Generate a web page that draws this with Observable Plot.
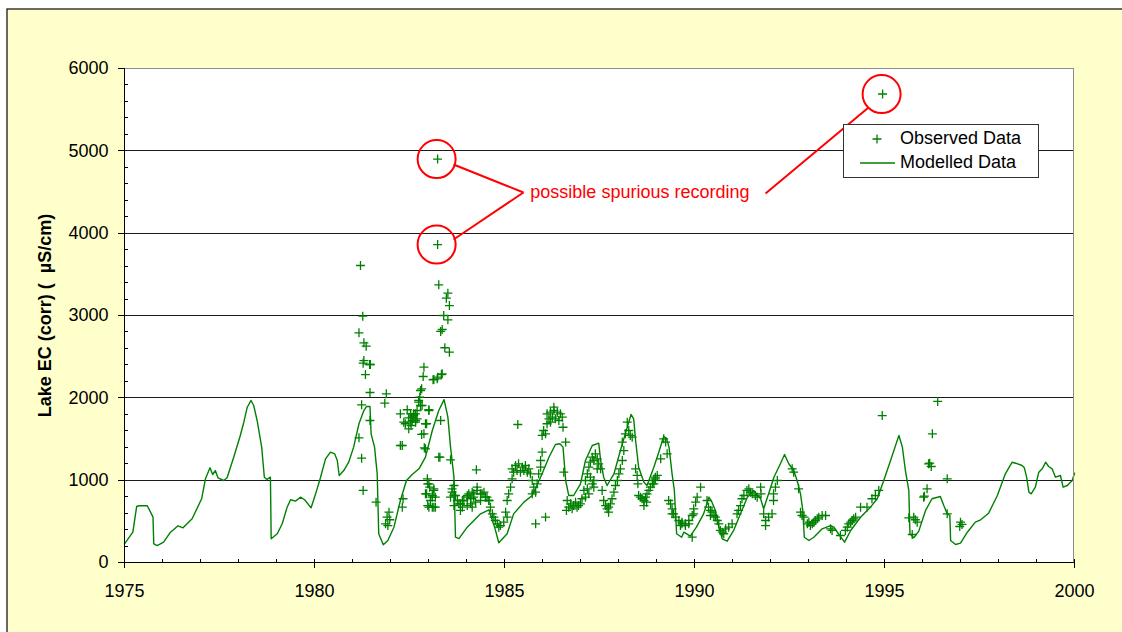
<!DOCTYPE html>
<html><head><meta charset="utf-8">
<script src="https://cdn.jsdelivr.net/npm/d3@7"></script>
<script src="https://cdn.jsdelivr.net/npm/@observablehq/plot@0.6"></script>
<style>
html,body{margin:0;padding:0;background:#fff;overflow:hidden;}
#chart{width:1122px;height:632px;}
</style></head><body><div id="chart"></div>
<script>
// ---------- data ----------
const yTicks = [0, 1000, 2000, 3000, 4000, 5000, 6000];
const yMinor = [200,400,600,800,1200,1400,1600,1800,2200,2400,2600,2800,3200,3400,3600,3800,4200,4400,4600,4800,5200,5400,5600,5800];
const xTicks = [1975, 1980, 1985, 1990, 1995, 2000];
const xMinor = [1976,1977,1978,1979,1981,1982,1983,1984,1986,1987,1988,1989,1991,1992,1993,1994,1996,1997,1998,1999];
const gridValues = [1000, 2000, 3000, 4000, 5000];

// modelled lake EC [year, EC]
const modelled = [
[1975.00,227],[1975.22,368],[1975.32,680],[1975.38,689],[1975.60,689],[1975.75,551],[1975.77,227],[1975.86,206],[1976.03,247],[1976.21,368],[1976.41,446],[1976.54,421],[1976.78,531],[1977.03,774],[1977.13,1016],[1977.25,1150],[1977.32,1069],[1977.39,1117],[1977.46,1029],[1977.61,996],[1977.70,1029],[1977.88,1287],[1978.04,1530],[1978.14,1704],[1978.23,1886],[1978.33,1968],[1978.40,1907],[1978.49,1725],[1978.61,1401],[1978.68,1036],[1978.75,1008],[1978.84,1036],[1978.86,288],[1979.02,349],[1979.15,470],[1979.28,672],[1979.37,762],[1979.50,745],[1979.63,793],[1979.74,762],[1979.91,664],[1980.03,834],[1980.16,1036],[1980.29,1259],[1980.42,1340],[1980.53,1320],[1980.60,1239],[1980.65,1057],[1980.77,1117],[1980.90,1218],[1981.03,1401],[1981.17,1685],[1981.30,1846],[1981.37,1895],[1981.46,1895],[1981.49,1563],[1981.58,1401],[1981.65,1077],[1981.69,349],[1981.81,215],[1981.93,267],[1982.09,429],[1982.26,753],[1982.42,996],[1982.57,1069],[1982.75,1138],[1982.92,1279],[1983.10,1603],[1983.27,1846],[1983.41,1978],[1983.51,1765],[1983.58,1401],[1983.67,1036],[1983.71,307],[1983.80,290],[1984.02,429],[1984.37,591],[1984.59,640],[1984.74,429],[1984.85,240],[1985.07,349],[1985.24,591],[1985.51,733],[1985.73,814],[1985.95,1036],[1986.17,1279],[1986.34,1433],[1986.46,1442],[1986.54,1401],[1986.61,996],[1986.69,814],[1986.82,814],[1987.00,956],[1987.13,1239],[1987.31,1421],[1987.48,1449],[1987.53,1239],[1987.61,1036],[1987.70,935],[1987.88,1077],[1988.05,1360],[1988.23,1643],[1988.33,1798],[1988.40,1745],[1988.45,1482],[1988.53,1158],[1988.67,975],[1988.75,935],[1988.93,1158],[1989.06,1340],[1989.19,1530],[1989.26,1510],[1989.33,1401],[1989.41,1077],[1989.47,875],[1989.53,349],[1989.66,307],[1989.72,368],[1989.89,320],[1990.05,429],[1990.24,591],[1990.38,793],[1990.46,733],[1990.55,632],[1990.64,429],[1990.73,288],[1990.86,259],[1991.03,389],[1991.21,591],[1991.39,793],[1991.56,875],[1991.74,774],[1991.82,652],[1991.95,834],[1992.09,1036],[1992.26,1199],[1992.37,1312],[1992.48,1199],[1992.61,1117],[1992.70,996],[1992.79,834],[1992.85,632],[1992.89,307],[1993.01,267],[1993.14,307],[1993.36,409],[1993.58,449],[1993.67,429],[1993.80,340],[1993.95,247],[1994.11,389],[1994.37,550],[1994.63,672],[1994.81,774],[1994.98,996],[1995.16,1239],[1995.32,1462],[1995.38,1543],[1995.47,1401],[1995.55,1117],[1995.64,875],[1995.67,349],[1995.77,300],[1995.90,378],[1996.08,632],[1996.25,774],[1996.47,802],[1996.56,692],[1996.65,591],[1996.72,571],[1996.74,267],[1996.87,219],[1997.00,235],[1997.18,368],[1997.39,490],[1997.53,519],[1997.74,599],[1997.97,814],[1998.18,1077],[1998.36,1218],[1998.45,1206],[1998.62,1178],[1998.68,1150],[1998.74,1036],[1998.80,854],[1998.86,834],[1998.97,915],[1999.06,1097],[1999.15,1138],[1999.24,1218],[1999.32,1166],[1999.41,1138],[1999.50,1036],[1999.63,1057],[1999.70,915],[1999.81,935],[1999.94,996],[2000.00,1085]
];

// observed lake EC [year, EC], grouped by period
const obs1981 = [
[1981.21,3607],[1981.27,2992],[1981.17,2790],[1981.30,2668],[1981.36,2627],[1981.30,2453],[1981.45,2405],[1981.34,2283],[1981.46,2065],[1981.28,2421],[1981.47,2405],[1981.46,1725],[1981.24,1915],[1981.17,1514],[1981.24,1267],[1981.28,875],[1981.62,733],[1981.89,2049],[1981.85,1935],[1981.96,611],[1981.91,551],[1981.98,519],[1981.87,470],[1981.93,449],[1982.26,1806],[1982.26,1421]
];
const obs1982 = [
[1982.44,1855],[1982.53,1806],[1982.48,1757],[1982.61,1786],[1982.57,1725],[1982.39,1685],[1982.54,1664],[1982.66,1704],[1982.70,1745],[1982.48,1624],[1982.35,1704],[1982.59,1765],[1982.57,1765],[1982.53,1704],[1982.61,1806],[1982.66,1725],[1982.70,1846],[1982.79,2089],[1982.83,1907],[1982.74,1968],[1983.01,1846],[1982.92,1685],[1982.88,1563],[1983.32,1725],[1982.92,1381],[1983.30,1279],[1982.31,1421],[1982.33,774],[1982.31,672],
[1982.88,2372],[1982.86,2259],[1983.12,2219],[1983.23,2231],[1983.34,2283],[1982.82,2110],[1982.77,2008],[1982.74,1947],[1982.79,1907],[1983.01,1855],[1982.95,1685],[1982.82,1555],[1982.89,1393],[1983.27,1279],[1983.58,1247],[1984.26,1126],
[1983.14,2223],[1983.24,2251],[1983.36,2292],[1982.66,1806]
];
const obs1983 = [
[1983.24,3862],[1983.24,4900],[1983.27,3373],[1983.51,3271],[1983.47,3210],[1983.55,3121],[1983.40,3000],[1983.51,2948],[1983.36,2830],[1983.32,2806],[1983.43,2608],[1983.55,2554],
[1982.97,1016],[1982.98,956],[1983.03,915],[1983.14,895],[1982.95,834],[1983.10,814],[1983.18,793],[1983.05,753],[1982.98,692],[1983.10,672],[1983.18,672],[1983.01,956],[1982.92,834],[1983.01,672],[1983.14,672],[1983.14,875],[1983.10,793]
];
const obs1984 = [
[1983.67,935],[1983.62,854],[1983.71,814],[1983.58,793],[1983.76,753],[1983.84,713],[1983.93,753],[1984.02,793],[1984.06,834],[1984.15,854],[1984.19,793],[1984.28,915],[1984.37,834],[1984.46,854],[1984.54,793],[1984.59,753],[1983.89,672],[1984.11,713],[1984.24,733],
[1983.62,895],[1983.67,814],[1983.80,713],[1983.89,753],[1984.02,814],[1984.11,774],[1984.19,834],[1984.28,875],[1984.41,834],[1984.50,793],[1984.59,753],[1984.63,672],[1983.84,632],[1984.02,692],[1984.15,672],[1984.37,753],[1983.67,692],
[1984.68,591],[1984.76,510],[1984.81,470],[1984.89,449],[1984.98,490],[1985.07,551],[1984.72,551],[1984.85,429],[1985.03,611],[1985.07,753],[1985.11,834],[1985.16,915],
[1985.35,1676],[1985.82,470],[1986.08,551]
];
const obs1985 = [
[1985.20,1138],[1985.29,1178],[1985.37,1199],[1985.47,1158],[1985.55,1178],[1985.64,1138],[1985.24,1097],[1985.33,1117],[1985.42,1097],[1985.51,1117],[1985.60,1097],[1985.68,1077],[1985.20,1016],[1985.73,996],[1985.77,915],[1985.82,854],[1985.73,834],[1985.86,956],[1985.90,1077],[1985.95,1239],[1985.99,1340],[1985.95,1158],
[1986.12,1806],[1986.21,1826],[1986.30,1846],[1986.39,1826],[1986.47,1806],[1986.17,1745],[1986.26,1765],[1986.34,1745],[1986.43,1725],[1986.52,1765],[1986.12,1685],[1986.21,1704],[1986.03,1603],[1986.08,1563],[1985.99,1543],[1986.54,1643],[1986.30,1886],[1986.61,1462],[1986.56,1097]
];
const obs1987 = [
[1986.65,753],[1986.74,713],[1986.82,692],[1986.91,672],[1987.00,713],[1986.69,672],[1986.78,652],[1986.87,733],[1986.95,692],[1986.63,632],[1987.04,774],
[1987.09,875],[1987.13,996],[1987.18,1077],[1987.22,1158],[1987.26,1218],[1987.31,1279],[1987.35,1239],[1987.39,1320],[1987.44,1259],[1987.48,1199],[1987.26,1036],[1987.31,956],[1987.18,895],[1987.22,834],[1987.35,996],[1987.44,1138],[1987.53,1138],[1987.35,915],[1987.13,793],
[1987.57,875],[1987.61,753],[1987.66,692],[1987.70,652],[1987.74,672],[1987.79,713],[1987.83,774],[1987.88,854],[1987.92,935],[1987.97,996],[1988.01,1077],[1988.05,1138],[1987.74,611]
];
const obs1988 = [
[1988.10,1239],[1988.14,1360],[1988.10,1462],[1988.18,1563],[1988.27,1603],[1988.31,1543],[1988.36,1522],[1988.23,1704],
[1988.45,1138],[1988.49,1057],[1988.51,956],[1988.53,814],[1988.58,793],[1988.62,774],[1988.67,753],[1988.71,793],[1988.75,834],[1988.80,875],[1988.84,915],[1988.89,956],[1988.93,996],[1988.97,1036],[1989.02,1057],[1988.74,733],
[1988.97,1016],[1988.93,956],[1988.67,692],[1989.11,1259],[1989.28,1320],[1989.24,1462],[1989.19,1502]
];
const obs1989 = [
[1989.32,753],[1989.37,713],[1989.41,652],[1989.45,591],[1989.50,551],[1989.59,510],[1989.67,490],[1989.76,470],[1989.85,510],[1989.94,571],[1989.98,652],[1990.03,733],[1990.07,793],[1989.94,307],[1989.63,449],
[1989.41,591],[1989.67,470],[1989.76,449],[1989.85,470],[1989.98,591],[1990.16,915]
];
const obs1990 = [
[1990.33,753],[1990.37,672],[1990.42,632],[1990.46,611],[1990.51,571],[1990.55,551],[1990.60,510],[1990.64,470],[1990.42,571],[1990.68,389],[1990.73,368],[1990.82,409],[1990.90,429],[1990.99,470],[1990.77,349]
];
const obs1991 = [
[1991.12,591],[1991.16,632],[1991.21,692],[1991.25,774],[1991.30,814],[1991.38,875],[1991.43,895],[1991.47,854],[1991.52,834],[1991.60,814],[1991.65,793],[1991.74,915],[1991.75,834],
[1991.82,591],[1991.87,510],[1991.87,449],[1991.95,551],[1992.04,591],[1992.08,753],[1992.08,834],[1992.13,915],[1992.18,996]
];
const obs1992 = [
[1992.57,1138],[1992.61,1097],[1992.74,895],[1992.79,611],[1992.83,571],[1992.88,551],[1992.97,470],[1993.01,490],[1993.05,449],[1993.10,470],[1993.14,490],[1993.18,510],[1993.23,531],[1993.27,551],[1993.36,571],[1993.45,571],[1993.58,409],[1993.62,389],[1993.84,328]
];
const obs1994 = [
[1993.97,389],[1994.02,429],[1994.06,470],[1994.11,490],[1994.15,510],[1994.19,531],[1994.24,551],[1994.37,672],[1994.54,672],[1994.67,774],[1994.76,814],[1994.85,875],[1994.94,1785],[1994.95,5690]
];
const obs1996 = [
[1995.64,543],[1995.81,519],[1995.86,490],[1995.73,340],[1995.77,551],[1996.03,793],[1996.05,806],[1996.12,895],[1996.16,1199],[1996.19,1206],[1996.23,1166],[1996.26,1563],[1996.40,1956],[1996.65,1016],[1996.65,591],[1997.00,490],[1997.04,462],[1996.98,437]
];

// possible spurious recordings (circled)
const spurious = [[1983.24,4900],[1983.24,3862],[1994.95,5690]];
// annotation connectors [x1, y1, x2, y2] in data units
const annoLinks = [
[1983.66,4834,1985.50,4494],
[1983.66,3923,1985.50,4494],
[1991.87,4482,1994.58,5526]
];
const annoText = [{year: 1985.68, ec: 4494, text: "possible spurious recording"}];
const yLabel = "Lake EC (corr) (  \u00B5S/cm)";
const legendItems = ["Observed Data", "Modelled Data"];

// ---------- build ----------
const GREEN = "#008000";
const RED = "#FF0000";
const toPts = a => a.map(([year, ec]) => ({year, ec}));
const modelledData = toPts(modelled);
const observedData = toPts([].concat(obs1981, obs1982, obs1983, obs1984, obs1985, obs1987, obs1988, obs1989, obs1990, obs1991, obs1992, obs1994, obs1996));
const spuriousData = toPts(spurious);
const linkData = annoLinks.map(([x1, y1, x2, y2]) => ({x1, y1, x2, y2}));

function background(index, scales, values, dim) {
  const {width, height, marginLeft, marginTop, marginRight, marginBottom} = dim;
  const g = d3.create("svg:g");
  g.append("rect").attr("x", 7).attr("y", 9).attr("width", width).attr("height", height)
    .attr("fill", "#FFFFCC").attr("stroke", "#1a1a1a").attr("stroke-width", 1.3);
  g.append("rect").attr("x", marginLeft).attr("y", marginTop)
    .attr("width", width - marginLeft - marginRight).attr("height", height - marginTop - marginBottom)
    .attr("fill", "#FFFFFF");
  return g.node();
}

function axesAndTicks(index, scales, values, dim) {
  const {width, height, marginLeft, marginTop, marginRight, marginBottom} = dim;
  const x0 = marginLeft, x1 = width - marginRight, yb = height - marginBottom, yt = marginTop;
  const g = d3.create("svg:g").attr("shape-rendering", "crispEdges");
  g.append("line").attr("x1", x0).attr("x2", x1).attr("y1", yt + 0.5).attr("y2", yt + 0.5).attr("stroke", "#8c8c8c");
  g.append("line").attr("x1", x1 - 0.5).attr("x2", x1 - 0.5).attr("y1", yt).attr("y2", yb).attr("stroke", "#8c8c8c");
  g.append("line").attr("x1", x0 + 0.5).attr("x2", x0 + 0.5).attr("y1", yt).attr("y2", yb).attr("stroke", "#000");
  g.append("line").attr("x1", x0).attr("x2", x1).attr("y1", yb + 0.5).attr("y2", yb + 0.5).attr("stroke", "#000");
  for (const v of yTicks) {
    const y = Math.round(scales.y(v)) + 0.5;
    g.append("line").attr("x1", x0 - 6).attr("x2", x0).attr("y1", y).attr("y2", y).attr("stroke", "#000");
  }
  for (const v of yMinor) {
    const y = Math.round(scales.y(v)) + 0.5;
    g.append("line").attr("x1", x0).attr("x2", x0 + 4).attr("y1", y).attr("y2", y).attr("stroke", "#000");
  }
  for (const v of xTicks) {
    const x = Math.round(scales.x(v)) + 0.5;
    g.append("line").attr("x1", x).attr("x2", x).attr("y1", yb - 3).attr("y2", yb + 6).attr("stroke", "#000");
  }
  for (const v of xMinor) {
    const x = Math.round(scales.x(v)) + 0.5;
    g.append("line").attr("x1", x).attr("x2", x).attr("y1", yb - 3).attr("y2", yb).attr("stroke", "#000");
  }
  return g.node();
}

function legend(index, scales, values, dim) {
  const {width, marginRight, marginTop} = dim;
  const bx = width - marginRight - 231, by = marginTop + 56;
  const g = d3.create("svg:g");
  g.append("rect").attr("x", bx + 0.5).attr("y", by + 0.5).attr("width", 195).attr("height", 53)
    .attr("fill", "#fff").attr("stroke", "#333").attr("shape-rendering", "crispEdges");
  const px = bx + 34, py = by + 15;
  g.append("path").attr("d", `M${px-4.5},${py}H${px+4.5}M${px},${py-4.5}V${py+4.5}`)
    .attr("stroke", GREEN).attr("stroke-width", 1.3).attr("fill", "none");
  g.append("line").attr("x1", bx + 17).attr("x2", bx + 52).attr("y1", by + 39).attr("y2", by + 39)
    .attr("stroke", GREEN).attr("stroke-width", 1.5);
  legendItems.forEach((t, i) => {
    g.append("text").attr("x", bx + 57).attr("y", by + 20 + i * 24).attr("font-size", 18)
      .attr("text-anchor", "start").attr("fill", "#000").text(t);
  });
  return g.node();
}

const chart = Plot.plot({
  width: 1122,
  height: 632,
  marginLeft: 124,
  marginRight: 48,
  marginTop: 68,
  marginBottom: 70,
  style: {background: "transparent", fontFamily: "'Liberation Sans', Arial, sans-serif", fontSize: "18px", color: "#000", overflow: "hidden"},
  x: {domain: [1975, 2000]},
  y: {domain: [0, 6000]},
  marks: [
    background,
    Plot.ruleY(gridValues, {stroke: "#1a1a1a", strokeWidth: 1, shapeRendering: "crispEdges"}),
    Plot.line(modelledData, {x: "year", y: "ec", stroke: GREEN, strokeWidth: 1.4}),
    Plot.dot(observedData, {x: "year", y: "ec", symbol: "plus", r: 3, stroke: GREEN, strokeWidth: 1.3}),
    Plot.dot(spuriousData, {x: "year", y: "ec", r: 19, stroke: RED, strokeWidth: 2, fill: "none", dx: -1}),
    Plot.link(linkData, {x1: "x1", y1: "y1", x2: "x2", y2: "y2", stroke: RED, strokeWidth: 2}),
    Plot.text(annoText, {x: "year", y: "ec", text: "text", fill: RED, fontSize: 18, textAnchor: "start"}),
    axesAndTicks,
    Plot.axisY(yTicks, {anchor: "left", tickSize: 0, tickPadding: 16, fontSize: 18, fill: "#000", label: null, tickFormat: d => String(d)}),
    Plot.axisX(xTicks, {anchor: "bottom", tickSize: 0, tickPadding: 22, fontSize: 18, fill: "#000", label: null, tickFormat: d => String(d)}),
    Plot.text([yLabel], {frameAnchor: "left", dx: -79, rotate: -90, fontWeight: "bold", fontSize: 18, fill: "#000", textAnchor: "middle"}),
    legend
  ]
});
document.getElementById("chart").appendChild(chart);
</script>
</body></html>
